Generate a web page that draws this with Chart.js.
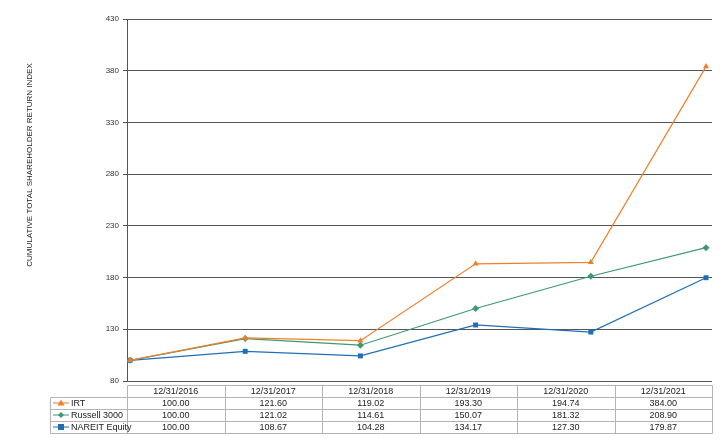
<!DOCTYPE html>
<html>
<head>
<meta charset="utf-8">
<script src="https://cdn.jsdelivr.net/npm/chart.js@4/dist/chart.umd.min.js"></script>
<style>
html,body{margin:0;padding:0;background:#fff;}
#wrap{width:720px;height:439px;position:relative;}
</style>
</head>
<body>
<div id="wrap"><canvas id="c" width="720" height="439"></canvas></div>
<script>
const categories = ["12/31/2016","12/31/2017","12/31/2018","12/31/2019","12/31/2020","12/31/2021"];
const seriesNames = ["IRT","Russell 3000","NAREIT Equity"];
const irt = [100.00,121.60,119.02,193.30,194.74,384.00];
const russell = [100.00,121.02,114.61,150.07,181.32,208.90];
const nareit = [100.00,108.67,104.28,134.17,127.30,179.87];
const yTicks = [80,130,180,230,280,330,380,430];
const yTitle = 'CUMULATIVE TOTAL SHAREHOLDER RETURN INDEX';
const colors = ["#F07F2C","#3E9A6E","#1F6FB8"];
const markers = ["triangle","rectRot","rect"];
const allSeries = [irt,russell,nareit];

const FONT = "'Liberation Sans', Arial, sans-serif";

const tablePlugin = {
  id:'dataTable',
  afterDraw(chart){
    const ctx = chart.ctx;
    const ca = chart.chartArea;
    const left = ca.left, right = ca.right;
    const colW = (right-left)/categories.length;
    const legendLeft = 50;
    const top = ca.bottom + 4;
    const rowH = 12;
    ctx.save();
    // y axis title
    ctx.save();
    ctx.translate(30, 165);
    ctx.rotate(-Math.PI/2);
    ctx.fillStyle = '#222';
    ctx.font = "8px " + FONT;
    ctx.textAlign = 'center';
    ctx.textBaseline = 'middle';
    ctx.fillText(yTitle, 0, 0);
    ctx.restore();

    ctx.strokeStyle = '#b4b4b4';
    ctx.lineWidth = 1;
    ctx.beginPath();
    ctx.moveTo(left+0.5, top+0.5); ctx.lineTo(right+0.5, top+0.5);
    ctx.moveTo(legendLeft+0.5, top+rowH+0.5); ctx.lineTo(right+0.5, top+rowH+0.5);
    for(let r=2;r<=4;r++){
      ctx.moveTo(legendLeft+0.5, top+rowH*r+0.5); ctx.lineTo(right+0.5, top+rowH*r+0.5);
    }
    ctx.moveTo(legendLeft+0.5, top+rowH+0.5); ctx.lineTo(legendLeft+0.5, top+rowH*4+0.5);
    for(let i=0;i<=categories.length;i++){
      const x = Math.round(left+colW*i)+0.5;
      ctx.moveTo(x, top+0.5); ctx.lineTo(x, top+rowH*4+0.5);
    }
    ctx.stroke();
    ctx.fillStyle = '#222';
    ctx.font = "9px " + FONT;
    ctx.textAlign = 'center';
    ctx.textBaseline = 'middle';
    categories.forEach((c,i)=>{
      ctx.fillText(c, left+colW*(i+0.5), top+rowH*0.5+1);
    });
    allSeries.forEach((s,r)=>{
      const y = top + rowH*(r+1.5)+1;
      s.forEach((v,i)=>{
        ctx.fillText(v.toFixed(2), left+colW*(i+0.5), y);
      });
      ctx.strokeStyle = colors[r];
      ctx.fillStyle = colors[r];
      ctx.beginPath();
      ctx.moveTo(legendLeft+3, y-1); ctx.lineTo(legendLeft+19, y-1);
      ctx.stroke();
      const cx = legendLeft+11, cy = y-1;
      ctx.beginPath();
      if(markers[r]==='triangle'){
        ctx.moveTo(cx, cy-3.5); ctx.lineTo(cx+3.5, cy+2.5); ctx.lineTo(cx-3.5, cy+2.5); ctx.closePath();
      } else if(markers[r]==='rectRot'){
        ctx.moveTo(cx, cy-3); ctx.lineTo(cx+3, cy); ctx.lineTo(cx, cy+3); ctx.lineTo(cx-3, cy); ctx.closePath();
      } else {
        ctx.rect(cx-3, cy-3, 6, 6);
      }
      ctx.fill();
      ctx.fillStyle = '#222';
      ctx.textAlign = 'left';
      ctx.fillText(seriesNames[r], legendLeft+21, y);
      ctx.textAlign = 'center';
    });
    ctx.restore();
  }
};

const datasets = allSeries.map((s,i)=>({
  label: seriesNames[i],
  data: s.map((v,j)=>({x:j, y:v})),
  borderColor: colors[i],
  backgroundColor: colors[i],
  borderWidth: 1.2,
  pointStyle: markers[i],
  pointRadius: 3.5,
  pointBorderWidth: 0,
  tension: 0
}));

new Chart(document.getElementById('c'), {
  type:'line',
  data:{ datasets },
  options:{
    responsive:false,
    animation:false,
    devicePixelRatio:1,
    layout:{ padding:{ left:25, right:8, top:19, bottom:58 } },
    plugins:{ legend:{display:false}, tooltip:{enabled:false} },
    scales:{
      x:{ type:'linear', display:false, min:-0.026, max:5.052 },
      y:{
        min:80, max:430,
        afterBuildTicks(scale){ scale.ticks = yTicks.map(v=>({value:v})); },
        afterFit(scale){ scale.width = 102; },
        ticks:{ color:'#333', font:{family:FONT, size:8}, padding:4 },
        grid:{ color:'#555', lineWidth:1, tickLength:4, drawTicks:true, tickColor:'#555' },
        border:{ color:'#555', width:1 },
        title:{ display:false }
      }
    }
  },
  plugins:[tablePlugin]
});
</script>
</body>
</html>
